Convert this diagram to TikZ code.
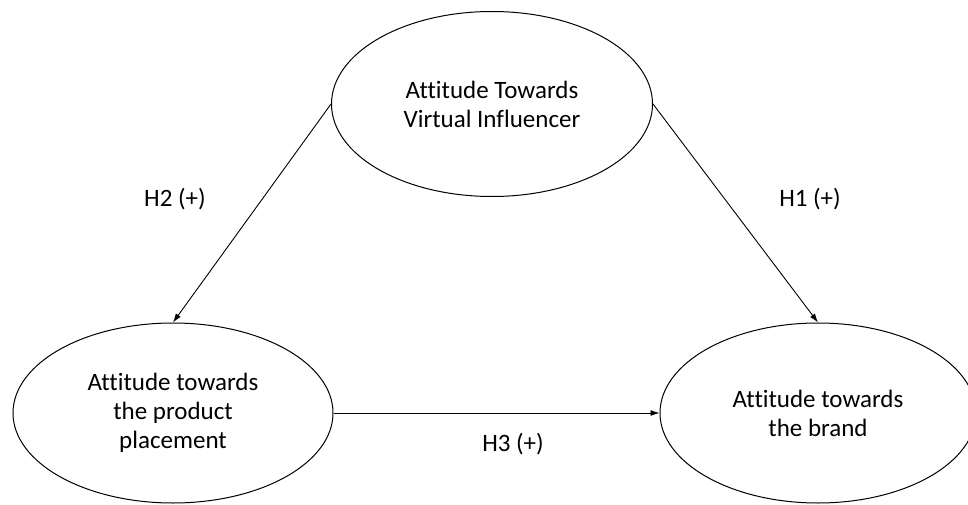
\documentclass[tikz,border=0pt]{standalone}
\usepackage{fontspec}
\setmainfont{Carlito}[Ligatures=NoCommon]
\usetikzlibrary{shapes.geometric,arrows.meta}
\begin{document}
\begin{tikzpicture}[x=1pt,y=1pt,
        construct/.style={ellipse, draw, line width=1pt, inner sep=0pt, align=center,
            font=\fontsize{25}{29}\selectfont},
        path/.style={-{Latex[length=9pt,width=6pt]}, line width=0.9pt},
        hyp/.style={font=\fontsize{25}{29}\selectfont}]
    \useasboundingbox (0,0) rectangle (968,504);
    
    \node[construct, minimum width=321, minimum height=185] (vi) at (492,400)
        {Attitude Towards\\Virtual Influencer}; % top
    
    \node[construct, minimum width=320, minimum height=180] (pp) at (173,91)
        {Attitude towards\\the product\\placement}; % left
    
    \node[construct, minimum width=316, minimum height=180] (br) at (818,91)
        {Attitude towards\\the brand}; % right
    
    \draw[path] (vi.west) -- (pp.north); % H2
    \draw[path] (vi.east) -- (br.north); % H1
    \draw[path] (pp.east) -- (br.west); % H3
    
    \node[hyp] (h2) at (175,305) {H2 (+)};
    \node[hyp] (h1) at (810,305) {H1 (+)};
    \node[hyp] (h3) at (513,60) {H3 (+)};
\end{tikzpicture}
\end{document}
